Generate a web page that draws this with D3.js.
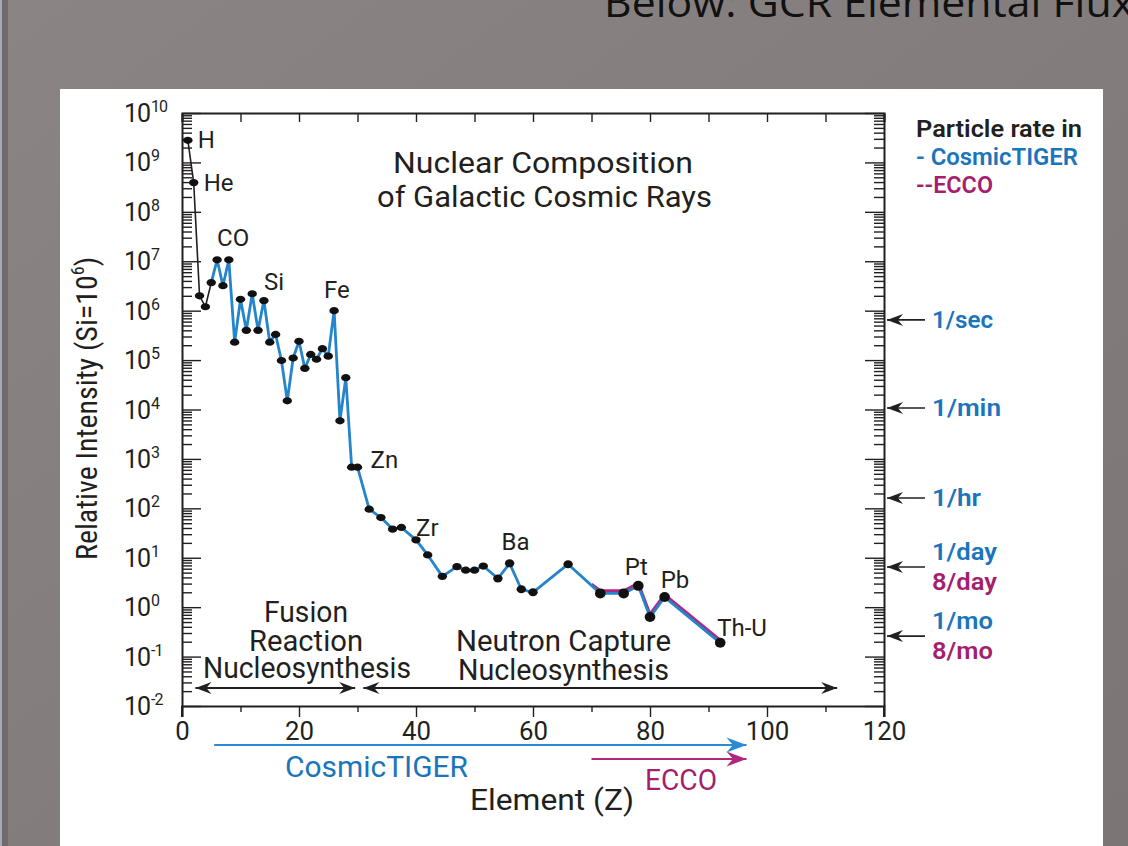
<!DOCTYPE html>
<html>
<head>
<meta charset="utf-8">
<script src="https://cdn.jsdelivr.net/npm/d3@7"></script>
<style>
  html, body { margin: 0; padding: 0; background: #807b7a; }
  svg { display: block; }
</style>
</head>
<body>
<svg id="chart" width="1128" height="846"></svg>
<script>
// Relative abundance of galactic cosmic-ray nuclei, normalised to Si = 10^6
const elementZ = [1, 2, 3, 4, 5, 6, 7, 8, 9, 10, 11, 12, 13, 14, 15, 16, 17, 18, 19, 20,
  21, 22, 23, 24, 25, 26, 27, 28, 29, 30, 32, 34, 36, 37.5, 40, 42, 44.5, 47, 48.5, 50,
  51.5, 54, 56, 58, 60, 66, 71.5, 75.5, 78, 80, 82.5, 92];
const intensity = [2.8e9, 3.9e8, 2.0e6, 1.2e6, 3.7e6, 1.07e7, 3.2e6, 1.07e7, 2.3e5, 1.7e6,
  4.0e5, 2.2e6, 4.0e5, 1.6e6, 2.3e5, 3.3e5, 9.8e4, 1.5e4, 1.1e5, 2.4e5,
  6.8e4, 1.3e5, 1.04e5, 1.7e5, 1.2e5, 1.0e6, 5.9e3, 4.4e4, 680, 680,
  96, 65, 38, 41, 23, 11.4, 4.2, 6.6, 5.6, 5.6,
  6.8, 3.8, 7.7, 2.3, 2.0, 7.4, 1.9, 1.9, 2.7, 0.63, 1.6, 0.19];

// ECCO heavy-nuclei trace
const eccoZ = [70, 71.5, 75.5, 78, 80, 82.5, 92];
const eccoIntensity = [2.9, 2.15, 2.15, 3.05, 0.72, 1.8, 0.215];

// Named peaks
const peakNames = ["H", "He", "CO", "Si", "Fe", "Zn", "Zr", "Ba", "Pt", "Pb", "Th-U"];
const peakZ = [1, 2, 6, 14, 26, 30, 40, 56, 78, 82.5, 92];

// Particle rates marked on the right-hand axis
const rateLabels = ["1/sec", "1/min", "1/hr", "1/day", "1/mo"];
const rateIntensity = [6.5e5, 1.07e4, 162, 6.5, 0.26];
const eccoRateLabels = ["", "", "", "8/day", "8/mo"];

// Axis ticks
const xTickValues = [0, 20, 40, 60, 80, 100, 120];
const xMinorTicks = [10, 30, 50, 70, 90, 110];
const yExponents = [-2, -1, 0, 1, 2, 3, 4, 5, 6, 7, 8, 9, 10];

// Instrument charge ranges and nucleosynthesis regimes (in Z)
const tigerRange = [5.5, 96.5];
const eccoRange = [70, 96.5];
const fusionRange = [2.3, 29.6];
const neutronRange = [31, 112];

const BLUE = "#2484cc";
const BLUE_TEXT = "#1b75bc";
const MAGENTA = "#b0287d";
const MAGENTA_TEXT = "#a51f6e";
const INK = "#231f20";
const FONT = "Roboto, 'Open Sans', sans-serif";
const NARROW = "'Liberation Sans Narrow', 'Roboto Condensed', 'DejaVu Sans Condensed', sans-serif";

const svg = d3.select("#chart");

// text helper: fixed rendered width keeps the typeset proportions
function label(g, str, xx, yy, size, width, opts = {}) {
  const t = g.append("text").attr("x", xx).attr("y", yy).attr("font-size", size).text(str);
  if (width) t.attr("textLength", width).attr("lengthAdjust", "spacingAndGlyphs");
  Object.entries(opts).forEach(([k, v]) => t.attr(k, v));
  return t;
}

// ---- slide backdrop ----
const defs = svg.append("defs");
const bg = defs.append("linearGradient").attr("id", "bg").attr("x1", 0).attr("y1", 0).attr("x2", 1).attr("y2", 1);
bg.append("stop").attr("offset", 0).attr("stop-color", "#8a8584");
bg.append("stop").attr("offset", 1).attr("stop-color", "#7b7675");
svg.append("rect").attr("width", 1128).attr("height", 846).attr("fill", "url(#bg)");
svg.append("rect").attr("x", 0).attr("width", 2).attr("height", 846).attr("fill", "#a3abb5");
svg.append("rect").attr("x", 2).attr("width", 6).attr("height", 846).attr("fill", "#716c6c");

label(svg, "Below: GCR Elemental Flux", 604, 17, 40, 530,
  { "font-family": "'Open Sans', 'Noto Sans', sans-serif", fill: "#111" });

svg.append("rect").attr("x", 60).attr("y", 89).attr("width", 1043).attr("height", 760).attr("fill", "#fff");

// arrowhead markers
function marker(id, color, len, half) {
  defs.append("marker")
    .attr("id", id).attr("viewBox", `${-len - 1} ${-half - 1} ${len + 3} ${2 * half + 2}`)
    .attr("refX", 0).attr("refY", 0)
    .attr("markerWidth", len + 3).attr("markerHeight", 2 * half + 2)
    .attr("markerUnits", "userSpaceOnUse")
    .attr("orient", "auto-start-reverse")
    .append("path").attr("d", `M0,0 L${-len},${-half} L${-len * 0.68},0 L${-len},${half} Z`).attr("fill", color);
}
marker("arrowInk", INK, 16, 6);
marker("arrowBlue", "#2a8ad4", 20, 7.5);
marker("arrowMag", MAGENTA, 20, 7.5);

// ---- scales ----
const x = d3.scaleLinear().domain([0, 120]).range([182, 884]);
const y = d3.scaleLog().domain([1e-2, 1e10]).range([706, 113]);

const plot = svg.append("g");

// log tick values: every mantissa 1..9 in each decade
const logTicks = [];
yExponents.slice(0, -1).forEach(e => { for (let m = 1; m <= 9; m++) logTicks.push(m * Math.pow(10, e)); });
logTicks.push(1e10);
const majorSet = new Set(yExponents.map(e => Math.pow(10, e)));

// left axis: ticks point into the frame
const leftAxis = plot.append("g").attr("transform", `translate(${x(0)},0)`)
  .call(d3.axisLeft(y).tickValues(logTicks).tickSize(0).tickFormat(""));
leftAxis.selectAll(".tick line").attr("x2", d => majorSet.has(d) ? 19 : 10);
// right axis mirrors the left
const rightAxis = plot.append("g").attr("transform", `translate(${x(120)},0)`)
  .call(d3.axisRight(y).tickValues(logTicks).tickSize(0).tickFormat(""));
rightAxis.selectAll(".tick line").attr("x2", d => majorSet.has(d) ? -19 : -10);

// bottom axis: ticks point outward
const bottomAxis = plot.append("g").attr("transform", `translate(0,${y(1e-2)})`)
  .call(d3.axisBottom(x).tickValues(xTickValues).tickSize(11).tickPadding(4).tickFormat(d3.format("d")));
plot.append("g").attr("transform", `translate(0,${y(1e-2)})`)
  .call(d3.axisBottom(x).tickValues(xMinorTicks).tickSize(6).tickFormat(""))
  .select(".domain").remove();
bottomAxis.selectAll(".tick text")
  .attr("font-family", FONT).attr("font-size", 26).attr("fill", INK).attr("dy", "0.72em")
  .attr("textLength", d => String(d).length * 14.5).attr("lengthAdjust", "spacingAndGlyphs");

// top axis: ticks point inward
plot.append("g").attr("transform", `translate(0,${y(1e10)})`)
  .call(d3.axisTop(x).tickValues(xTickValues.concat(xMinorTicks)).tickSize(-9).tickFormat(""));

plot.selectAll(".domain").attr("stroke", INK).attr("stroke-width", 2);
plot.selectAll(".tick line").attr("stroke", INK).attr("stroke-width", 1.4);
[0, 120].forEach(v => plot.append("line")
  .attr("x1", x(v)).attr("x2", x(v)).attr("y1", y(1e-2)).attr("y2", y(1e-2) + 11)
  .attr("stroke", INK).attr("stroke-width", 2));

// y tick labels with superscript exponents
const yLabels = svg.append("g").attr("font-family", FONT).attr("fill", INK);
yExponents.forEach(e => {
  const t = yLabels.append("text").attr("x", 124).attr("y", y(Math.pow(10, e))).attr("dy", "0.36em")
    .attr("font-size", 25).attr("letter-spacing", -1);
  t.append("tspan").text("10");
  t.append("tspan").attr("font-size", 16).attr("dy", "-0.62em").attr("dx", 1).text(String(e));
});

// ---- data lines ----
const line = d3.line().x(d => x(d[0])).y(d => y(d[1]));
const points = elementZ.map((z, i) => [z, intensity[i]]);
const eccoPoints = eccoZ.map((z, i) => [z, eccoIntensity[i]]);
const splitAt = elementZ.indexOf(5);

plot.append("path").datum(eccoPoints).attr("d", line)
  .attr("fill", "none").attr("stroke", MAGENTA).attr("stroke-width", 3).attr("stroke-linejoin", "round");
plot.append("path").datum(points.slice(splitAt)).attr("d", line)
  .attr("fill", "none").attr("stroke", BLUE).attr("stroke-width", 2.8).attr("stroke-linejoin", "round");
plot.append("path").datum(points.slice(0, splitAt + 1)).attr("d", line)
  .attr("fill", "none").attr("stroke", INK).attr("stroke-width", 1.6);

plot.append("g").selectAll("ellipse").data(points).join("ellipse")
  .attr("cx", d => x(d[0])).attr("cy", d => y(d[1]))
  .attr("rx", d => d[0] >= 70 ? 5.3 : 4.7)
  .attr("ry", d => d[0] >= 70 ? 5 : d[0] > 52 ? 4 : 3.6)
  .attr("fill", "#111");

// ---- element labels ----
const labelOffset = {
  "H": [10, 8, "start"], "He": [10, 8, "start"], "CO": [0, -14, "start"], "Si": [0, -11, "start"],
  "Fe": [-10, -13, "start"], "Zn": [13, 1, "start"], "Zr": [0, -4, "start"], "Ba": [6, -13, "middle"],
  "Pt": [-2, -11, "middle"], "Pb": [-4, -9, "start"], "Th-U": [-3, -7, "start"]
};
svg.append("g").attr("font-family", FONT).attr("font-size", 24).attr("fill", INK)
  .selectAll("text").data(peakNames).join("text")
  .attr("x", (d, i) => x(peakZ[i]) + labelOffset[d][0])
  .attr("y", (d, i) => y(intensity[elementZ.indexOf(peakZ[i])]) + labelOffset[d][1])
  .attr("text-anchor", d => labelOffset[d][2])
  .text(d => d);

// ---- titles ----
const titles = svg.append("g").attr("font-family", FONT).attr("fill", INK);
label(titles, "Nuclear Composition", 393, 173, 30, 300);
label(titles, "of Galactic Cosmic Rays", 377, 207, 30, 335);
label(titles, "Element (Z)", 470, 810, 30, 164);
titles.append("text").attr("transform", "translate(97,560) rotate(-90)")
  .attr("font-family", NARROW).attr("font-size", 30)
  .call(t => {
    t.append("tspan").text("Relative Intensity (Si=10");
    t.append("tspan").attr("font-size", 18).attr("dy", "-0.7em").text("6");
    t.append("tspan").attr("dy", "0.42em").text(")");
  });

// nucleosynthesis regimes
const regimes = svg.append("g").attr("font-family", FONT).attr("fill", INK);
label(regimes, "Fusion", 264, 622, 29, 84);
label(regimes, "Reaction", 249, 651, 29, 114);
label(regimes, "Nucleosynthesis", 203, 678, 29, 208);
label(regimes, "Neutron Capture", 456, 651, 29, 215);
label(regimes, "Nucleosynthesis", 458, 680, 29, 211);

function rangeArrow(range, yy, color, id, both) {
  const l = svg.append("line").attr("x1", x(range[0])).attr("x2", x(range[1]))
    .attr("y1", yy).attr("y2", yy).attr("stroke", color).attr("stroke-width", 2)
    .attr("marker-end", `url(#${id})`);
  if (both) l.attr("marker-start", `url(#${id})`);
}
rangeArrow(fusionRange, 688, INK, "arrowInk", true);
rangeArrow(neutronRange, 688, INK, "arrowInk", true);
rangeArrow(tigerRange, 745, "#2a8ad4", "arrowBlue", false);
rangeArrow(eccoRange, 759, MAGENTA, "arrowMag", false);

const inst = svg.append("g").attr("font-family", FONT);
label(inst, "CosmicTIGER", 285, 777, 30, 183, { fill: BLUE_TEXT });
label(inst, "ECCO", 645, 790, 30, 72, { fill: MAGENTA_TEXT });

// ---- particle-rate legend and arrows ----
const legend = svg.append("g").attr("font-family", FONT).attr("font-weight", 600);
label(legend, "Particle rate in", 916, 137, 23, 166, { fill: INK });
label(legend, "- CosmicTIGER", 916, 165, 23, 162, { fill: BLUE_TEXT });
label(legend, "--ECCO", 916, 193, 23, 77, { fill: MAGENTA_TEXT });

const rateWidth = { "1/sec": 61, "1/min": 69, "1/hr": 49, "1/day": 65, "8/day": 65, "1/mo": 61, "8/mo": 61 };
rateLabels.forEach((lab, i) => {
  const yy = y(rateIntensity[i]);
  svg.append("line").attr("x1", 925).attr("x2", x(120) + 3).attr("y1", yy).attr("y2", yy)
    .attr("stroke", INK).attr("stroke-width", 1.6).attr("marker-end", "url(#arrowInk)");
  const twoLine = eccoRateLabels[i] !== "";
  label(legend, lab, 932, yy + (twoLine ? -7 : 8), 24, rateWidth[lab], { fill: BLUE_TEXT });
  if (twoLine) label(legend, eccoRateLabels[i], 932, yy + 23, 24, rateWidth[eccoRateLabels[i]], { fill: MAGENTA_TEXT });
});
</script>
</body>
</html>
